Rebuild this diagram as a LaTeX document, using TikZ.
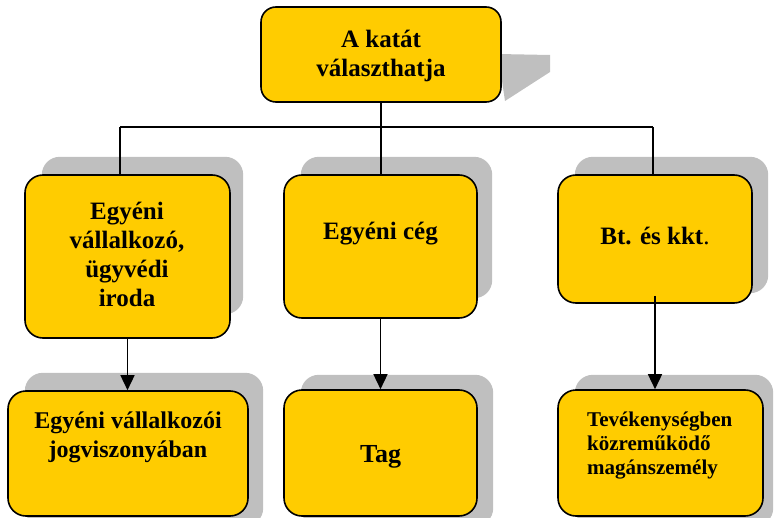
\documentclass[tikz,border=0pt]{standalone}
\usepackage{fontspec}
\setmainfont{Liberation Serif}
\usetikzlibrary{arrows.meta}
\definecolor{katyellow}{RGB}{255,204,0}
\definecolor{shadowgray}{RGB}{191,191,191}
\tikzset{
  box/.style={draw, line width=1.6pt, fill=katyellow, rounded corners=18pt, inner sep=0pt},
  boxshadow/.style={fill=shadowgray, rounded corners=18pt},
  lbl/.style={font=\bfseries\fontsize{25}{29}\selectfont, align=center, inner sep=0pt},
  conn/.style={line width=1.5pt},
  arr/.style={line width=1.5pt, -{Triangle[length=15pt,width=14pt]}}
}
\begin{document}
\begin{tikzpicture}[x=1pt,y=-1pt]
\useasboundingbox (0,0) rectangle (775,518);
% shadows
\fill[shadowgray] (498,54) -- (550,55) -- (550,72) -- (505,101) -- cycle;
% boxes
\node[box, rounded corners=15pt, minimum width=240pt, minimum height=95pt] (katat) at (381,54.5){};
\node[lbl] (katat-t) at (381,56){A katát\\választhatja};
\coordinate (bus) at (381,127);
\coordinate (jl) at (120,127);
\coordinate (jr) at (653,127);
\draw[conn] (katat.south) -- (bus);
\draw[conn] (jl) -- (jr);
\node[minimum width=205pt, minimum height=163pt] (evall) at (127.5,256.5){};
\node[minimum width=193pt, minimum height=143pt] (ecegg) at (380.5,246.5){};
\node[minimum width=194pt, minimum height=128pt] (btkkt) at (655,239){};
\fill[boxshadow] ([xshift=17pt,yshift=24pt]evall.south west) rectangle ([xshift=13pt,yshift=18pt]evall.north east);
\fill[boxshadow] ([xshift=17pt,yshift=20pt]ecegg.south west) rectangle ([xshift=15pt,yshift=18pt]ecegg.north east);
\fill[boxshadow] ([xshift=17pt,yshift=10pt]btkkt.south west) rectangle ([xshift=16pt,yshift=18pt]btkkt.north east);
\draw[conn] (jl) -- (jl |- evall.north);
\draw[conn] (bus) -- (bus |- ecegg.north);
\draw[conn] (jr) -- (jr |- btkkt.north);
\node[box, minimum width=205pt, minimum height=163pt] (evall) at (127.5,256.5){};
\node[lbl] (evall-t) at (127,254){Egyéni\\vállalkozó,\\ügyvédi\\iroda};
\node[box, minimum width=193pt, minimum height=143pt] (ecegg) at (380.5,246.5){};
\node[lbl, anchor=base] (ecegg-t) at (380.5,240){Egyéni cég};
\node[box, minimum width=194pt, minimum height=128pt] (btkkt) at (655,239){};
\node[lbl, anchor=base] (btkkt-t) at (655,245){Bt. és kkt{\mdseries.}};
% bottom row
\node[minimum width=240pt, minimum height=125pt] (evjog) at (128,453.5){};
\node[minimum width=193pt, minimum height=126pt] (tag) at (380.5,453){};
\node[minimum width=205pt, minimum height=126pt] (tevek) at (660.5,453){};
\fill[boxshadow] ([xshift=17pt,yshift=-10pt]evjog.south west) rectangle ([xshift=15pt,yshift=18pt]evjog.north east);
\fill[boxshadow] ([xshift=17pt,yshift=-10pt]tag.south west) rectangle ([xshift=16pt,yshift=15pt]tag.north east);
\fill[boxshadow] ([xshift=17pt,yshift=-10pt]tevek.south west) rectangle ([xshift=10pt,yshift=15pt]tevek.north east);
\node[box, minimum width=240pt, minimum height=125pt] (evjog) at (128,453.5){};
\node[lbl, font=\bfseries\fontsize{24}{29}\selectfont] (evjog-t) at (128,437){Egyéni vállalkozói\\jogviszonyában};
\node[box, minimum width=193pt, minimum height=126pt] (tag) at (380.5,453){};
\node[lbl, anchor=base, font=\bfseries\fontsize{26}{29}\selectfont] (tag-t) at (380.5,462){Tag};
\node[box, minimum width=205pt, minimum height=126pt] (tevek) at (660.5,453){};
\node[lbl, anchor=west, align=left, font=\bfseries\fontsize{21}{24}\selectfont] (tevek-t) at (587,446){Tevékenységben\\közreműködő\\magánszemély};
% arrows
\draw[arr] (evall.south) -- (evall.south |- evjog.north);
\draw[arr] (ecegg.south) -- (ecegg.south |- tag.north);
\draw[arr] ([yshift=8pt]btkkt.south) -- (btkkt.south |- tevek.north);
\end{tikzpicture}
\end{document}
